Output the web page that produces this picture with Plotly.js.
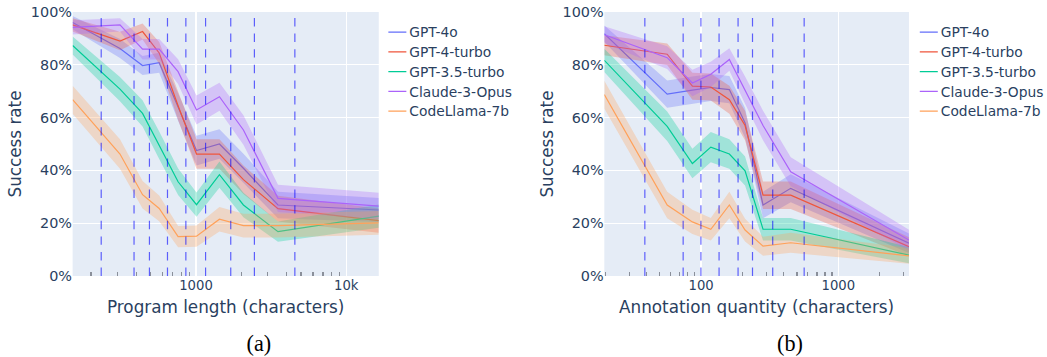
<!DOCTYPE html>
<html>
<head>
<meta charset="utf-8">
<script src="https://cdn.plot.ly/plotly-3.0.1.min.js"></script>
<style>
  html, body { margin: 0; padding: 0; background: #ffffff; overflow: hidden; }
  #wrap { width: 1047px; height: 357px; overflow: hidden; }
  #chart { transform: scale(0.6); transform-origin: 0 0; }
</style>
</head>
<body>
<div id="wrap"><div id="chart"></div></div>
<script>
// ---------- data: (a) program length ----------
const modelNames = ["GPT-4o", "GPT-4-turbo", "GPT-3.5-turbo", "Claude-3-Opus", "CodeLlama-7b"];
const modelColors = ["#636efa", "#EF553B", "#00cc96", "#ab63fa", "#FFA15A"];

const lenX = [151, 312, 441, 569, 760, 1008, 1432, 2068, 3512, 16450];
const lenBinEdges = [234, 387, 490, 646, 856, 1158, 1703, 2447, 4548];
const lenGPT4o     = [96.0, 86.2, 79.7, 80.8, 64.0, 47.5, 50.0, 40.8, 26.9, 25.0];
const lenGPT4turbo = [95.1, 89.0, 92.6, 84.5, 64.5, 46.2, 46.2, 36.5, 25.5, 21.0];
const lenGPT35     = [87.3, 70.8, 61.6, 49.5, 35.7, 27.0, 38.4, 26.9, 16.8, 22.7];
const lenClaude    = [94.2, 95.1, 85.9, 85.9, 77.4, 62.9, 67.9, 55.3, 29.4, 26.5];
const lenCodeLlama = [66.8, 46.2, 30.8, 25.6, 14.9, 15.1, 21.5, 19.1, 19.1, 20.1];
// half-widths of the shaded bands
const lenGPT4oCI     = [2.5, 3.6, 3.6, 3.8, 5.2, 5.6, 5.6, 5.5, 5.0, 4.5];
const lenGPT4turboCI = [2.5, 3.5, 3.0, 4.1, 5.4, 5.6, 5.6, 5.4, 4.9, 4.6];
const lenGPT35CI     = [3.4, 4.6, 5.0, 5.2, 5.0, 4.6, 5.0, 4.6, 3.8, 4.4];
const lenClaudeCI    = [2.7, 2.5, 3.9, 3.9, 4.7, 5.5, 5.3, 5.6, 5.2, 5.0];
const lenCodeLlamaCI = [5.3, 5.6, 5.2, 4.9, 4.0, 4.0, 4.6, 4.5, 4.5, 4.5];

// ---------- data: (b) annotation quantity ----------
const annX = [19.7, 56.6, 86.4, 117.7, 160.7, 209.2, 282.8, 450.2, 3275];
const annBinEdges = [38.9, 74, 99.7, 135.2, 186, 237, 332.7, 564];
const annGPT4o     = [91.8, 68.9, 70.4, 71.4, 70.6, 58.0, 26.9, 33.2, 12.4];
const annGPT4turbo = [87.4, 84.0, 71.9, 71.6, 66.8, 57.0, 30.6, 30.6, 11.1];
const annGPT35     = [81.7, 56.7, 42.6, 48.8, 46.2, 39.8, 17.7, 17.7, 7.9];
const annClaude    = [91.4, 82.7, 73.1, 76.4, 82.0, 70.4, 57.0, 39.5, 13.6];
const annCodeLlama = [68.7, 26.9, 20.5, 17.7, 26.9, 17.4, 11.3, 12.6, 7.6];
const annGPT4oCI     = [3.1, 5.2, 5.2, 5.1, 5.2, 5.6, 5.0, 5.3, 3.7];
const annGPT4turboCI = [3.8, 4.1, 5.1, 5.1, 5.3, 5.6, 5.2, 5.2, 3.6];
const annGPT35CI     = [4.4, 5.6, 5.6, 5.7, 5.6, 5.5, 4.3, 4.3, 3.1];
const annClaudeCI    = [3.2, 4.3, 5.0, 4.8, 4.3, 5.2, 5.6, 5.5, 3.9];
const annCodeLlamaCI = [5.3, 5.0, 4.6, 4.3, 5.0, 4.3, 3.6, 3.8, 3.0];

const xTitles = ["Program length (characters)", "Annotation quantity (characters)"];
const yTitle = "Success rate";
const captions = ["(a)", "(b)"];

// ---------- build ----------
const S = 0.6;                    // whole figure is drawn at 1/S and scaled down
const W = 1047 / S, H = 357 / S;
const fontFamily = '"DejaVu Sans", Verdana, sans-serif';
const textColor = '#2a3f5f';

function rgba(hex, a) {
  const n = parseInt(hex.slice(1), 16);
  return `rgba(${(n >> 16) & 255},${(n >> 8) & 255},${n & 255},${a})`;
}

const panels = [
  { x: lenX, series: [lenGPT4o, lenGPT4turbo, lenGPT35, lenClaude, lenCodeLlama],
    ci: [lenGPT4oCI, lenGPT4turboCI, lenGPT35CI, lenClaudeCI, lenCodeLlamaCI],
    edges: lenBinEdges, xa: 'x', ya: 'y', legend: 'legend' },
  { x: annX, series: [annGPT4o, annGPT4turbo, annGPT35, annClaude, annCodeLlama],
    ci: [annGPT4oCI, annGPT4turboCI, annGPT35CI, annClaudeCI, annCodeLlamaCI],
    edges: annBinEdges, xa: 'x2', ya: 'y2', legend: 'legend2' }
];

const traces = [];
const shapes = [];
panels.forEach(p => {
  p.series.forEach((ys, k) => {
    const ci = p.ci[k];
    const up = ys.map((v, i) => v + ci[i]);
    const lo = ys.map((v, i) => v - ci[i]);
    traces.push({
      type: 'scatter', mode: 'lines', xaxis: p.xa, yaxis: p.ya,
      x: p.x.concat(p.x.slice().reverse()),
      y: up.concat(lo.slice().reverse()),
      fill: 'toself', fillcolor: rgba(modelColors[k], 0.3),
      line: { width: 0, color: modelColors[k] },
      hoverinfo: 'skip', showlegend: false, legend: p.legend
    });
    traces.push({
      type: 'scatter', mode: 'lines', xaxis: p.xa, yaxis: p.ya,
      x: p.x, y: ys, name: modelNames[k],
      line: { width: 2, color: modelColors[k] },
      legend: p.legend
    });
  });
  p.edges.forEach(e => {
    shapes.push({
      type: 'line', xref: p.xa, yref: p.ya + ' domain',
      x0: e, x1: e, y0: 0, y1: 1,
      line: { color: 'rgba(0,0,255,0.6)', width: 2, dash: '14px,12px' }
    });
  });
});

function xAxis(domain, title, anchor) {
  return {
    domain: domain, anchor: anchor, type: 'log', autorange: true,
    dtick: 1, showgrid: true, gridcolor: '#ffffff', gridwidth: 2,
    ticks: '', zeroline: false, showline: false,
    tickfont: { size: 22, color: textColor },
    minor: { ticks: 'inside', ticklen: 7, tickcolor: '#8a8f9a', tickwidth: 2, dtick: 'D1', showgrid: false },
    title: { text: title, font: { size: 28, color: textColor }, standoff: 14 },
    automargin: false
  };
}
function yAxis(domain, anchor) {
  return {
    domain: domain, anchor: anchor, range: [0, 100], dtick: 20,
    ticksuffix: '%', showgrid: true, gridcolor: '#ffffff', gridwidth: 2,
    zeroline: false, ticks: '',
    tickfont: { size: 24, color: textColor },
    title: { text: yTitle, font: { size: 28, color: textColor }, standoff: 7 },
    automargin: false
  };
}

const yDom = [1 - 276 / 357, 1 - 12 / 357];
const layout = {
  width: W, height: H,
  margin: { l: 0, r: 0, t: 0, b: 0, pad: 0 },
  paper_bgcolor: '#ffffff', plot_bgcolor: '#E5ECF6',
  font: { family: fontFamily, size: 23, color: textColor },
  xaxis: xAxis([72.7 / 1047, 379.2 / 1047], xTitles[0], 'y'),
  yaxis: yAxis(yDom, 'x'),
  xaxis2: xAxis([605 / 1047, 910 / 1047], xTitles[1], 'y2'),
  yaxis2: yAxis(yDom, 'x2'),
  legend: { x: 643 / W, y: 1 - 32 / H, xanchor: 'left', yanchor: 'top',
            bgcolor: 'rgba(0,0,0,0)', font: { size: 23, color: textColor } },
  legend2: { x: 1530 / W, y: 1 - 32 / H, xanchor: 'left', yanchor: 'top',
            bgcolor: 'rgba(0,0,0,0)', font: { size: 23, color: textColor } },
  shapes: shapes,
  annotations: [
    { text: captions[0], xref: 'paper', yref: 'paper', x: 259 / 1047, y: 1 - 343.5 / 357,
      xanchor: 'center', yanchor: 'middle', showarrow: false,
      font: { family: '"Liberation Serif", "Times New Roman", serif', size: 37, color: '#000000' } },
    { text: captions[1], xref: 'paper', yref: 'paper', x: 791 / 1047, y: 1 - 343.5 / 357,
      xanchor: 'center', yanchor: 'middle', showarrow: false,
      font: { family: '"Liberation Serif", "Times New Roman", serif', size: 37, color: '#000000' } }
  ],
  showlegend: true
};

Plotly.newPlot('chart', traces, layout, { displayModeBar: false, staticPlot: true });
</script>
</body>
</html>
